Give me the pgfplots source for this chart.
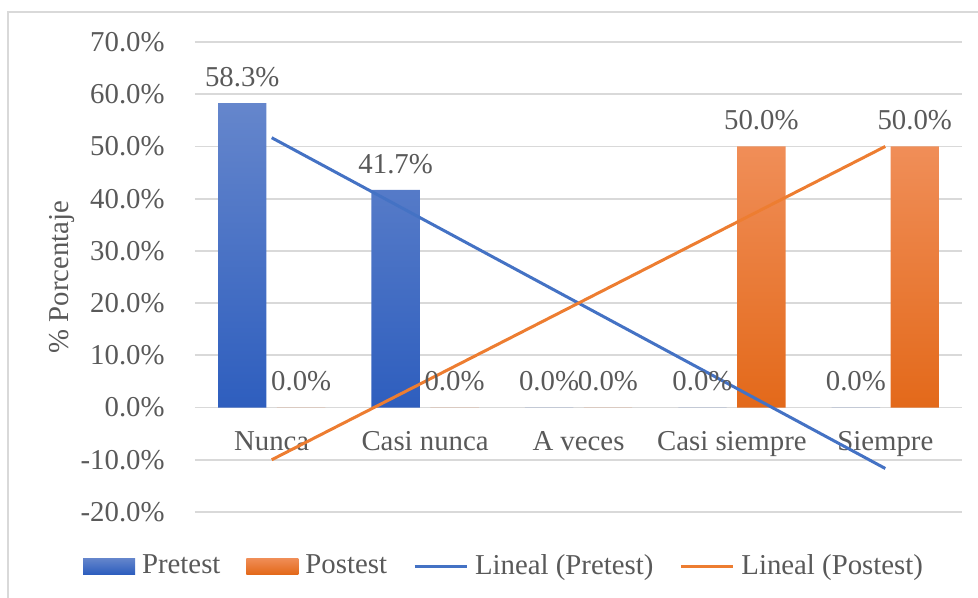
\documentclass[border=0pt]{standalone}
\usepackage{fontspec}
\setmainfont{Liberation Serif}
\usepackage{pgfplots}
\pgfplotsset{compat=1.18}
\definecolor{txt}{HTML}{595959}
\definecolor{gridc}{HTML}{D9D9D9}
\definecolor{bTop}{HTML}{6586CC}
\definecolor{bBot}{HTML}{2E5EBE}
\definecolor{oTop}{HTML}{F08E58}
\definecolor{oBot}{HTML}{E3691A}
\definecolor{lBlue}{HTML}{4472C4}
\definecolor{lOrange}{HTML}{ED7D31}
\newcommand{\fs}{\fontsize{14.4}{17}\selectfont}
\begin{document}
\begin{tikzpicture}[font=\fs]
\begin{axis}[
  scale only axis, width=383.5pt, height=235pt,
  xmin=0.5, xmax=5.5, ymin=-20, ymax=70,
  xtick={1,2,3,4,5},
  xticklabels={Nunca,Casi nunca,A veces,Casi siempre,Siempre},
  ytick={-20,-10,0,10,20,30,40,50,60,70},
  ymajorgrids, major grid style={color=gridc, line width=0.9pt},
  axis line style={draw=none}, tick style={draw=none},
  /pgf/number format/assume math mode=true,
  yticklabel={\pgfmathprintnumber[fixed,fixed zerofill,precision=1]{\tick}\%},
  yticklabel style={anchor=east, inner sep=0pt, xshift=-15pt, text=txt, font=\fs},
  xticklabel style={anchor=base, inner sep=0pt, yshift=30.5pt, text=txt, font=\fs},
  ylabel={\% Porcentaje},
  ylabel style={at={(axis description cs:-0.174,0.5)}, anchor=center, text=txt, font=\fs},
  legend style={at={(0.4016,-0.1149)}, anchor=center, draw=none, fill=none,
    legend columns=4, text=txt, font=\fs,
    nodes={inner sep=0pt},
    /tikz/every odd column/.append style={column sep=3.5pt},
    /tikz/every even column/.append style={column sep=13pt}},
  every node near coord/.append style={anchor=base, inner sep=0pt, yshift=8.3pt, text=txt, font=\fs},
]
\addplot[ybar, bar width=24.2pt, bar shift=0pt, draw=none, top color=bTop, bottom color=bBot,
  nodes near coords={\pgfmathprintnumber[fixed,fixed zerofill,precision=1]{\pgfplotspointmeta}\%},
  point meta=y,
  legend image code/.code={\path[top color=bTop, bottom color=bBot] (0pt,-4pt) rectangle (26pt,4pt);}]
  coordinates {(0.808,58.3) (1.808,41.7) (2.808,0) (3.808,0) (4.808,0)};
\addlegendentry{Pretest}
\addplot[ybar, bar width=24.2pt, bar shift=0pt, draw=none, top color=oTop, bottom color=oBot,
  nodes near coords={\pgfmathprintnumber[fixed,fixed zerofill,precision=1]{\pgfplotspointmeta}\%},
  point meta=y,
  legend image code/.code={\path[top color=oTop, bottom color=oBot] (0pt,-4pt) rectangle (26pt,4pt);}]
  coordinates {(1.192,0) (2.192,0) (3.192,0) (4.192,50) (5.192,50)};
\addlegendentry{Postest}
\addplot[sharp plot, no marks, color=lBlue, line width=1.5pt,
  legend image code/.code={\draw[lBlue, line width=1.5pt] (0pt,0pt) -- (26pt,0pt);}]
  coordinates {(1,51.67) (5,-11.67)};
\addlegendentry{Lineal (Pretest)}
\addplot[sharp plot, no marks, color=lOrange, line width=1.5pt,
  legend image code/.code={\draw[lOrange, line width=1.5pt] (0pt,0pt) -- (26pt,0pt);}]
  coordinates {(1,-10) (5,50)};
\addlegendentry{Lineal (Postest)}
\end{axis}
\pgfresetboundingbox
\path[use as bounding box, shift={(current axis.south west)}] (-97.5pt,-43pt) rectangle (391.5pt,256pt);
\draw[gridc, line width=1pt, shift={(current axis.south west)}] (-93.5pt,-43pt) -- (-93.5pt,250pt) -- (391.5pt,250pt);
\end{tikzpicture}
\end{document}
